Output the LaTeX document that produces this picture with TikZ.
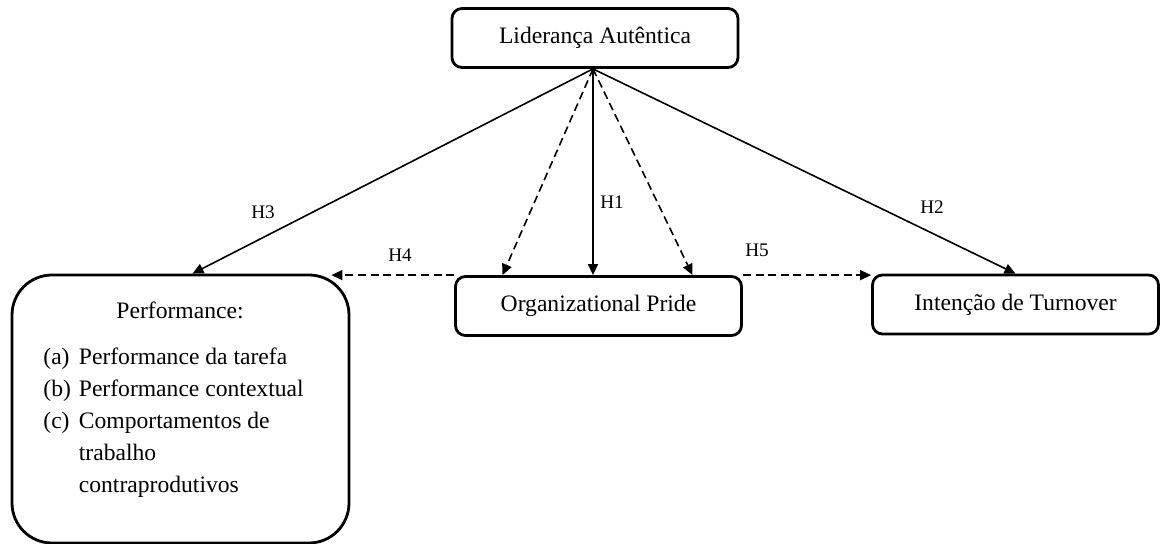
\documentclass[tikz,border=0pt]{standalone}
\usepackage{fontspec}
\setmainfont{Liberation Serif}
\usetikzlibrary{arrows.meta, calc}

\tikzset{
  box/.style={draw, line width=1.4pt, rounded corners=5pt, minimum width=143pt, minimum height=29.5pt, font=\fontsize{11.8}{14}\selectfont},
  bigbox/.style={draw, line width=1.4pt, rounded corners=20pt, minimum width=168.5pt, minimum height=134pt},
  txt/.style={font=\fontsize{11.8}{15.9}\selectfont},
  arr/.style={line width=0.8pt, -{Triangle[length=5.5pt,width=5pt]}},
  hdash/.style={dash pattern=on 4pt off 2.3pt},
  hyp/.style={font=\fontsize{9.6}{11}\selectfont}
}

\begin{document}
\begin{tikzpicture}[x=0.5pt, y=-0.5pt]
\useasboundingbox (0,0) rectangle (1161,544);
\node[box] (lider) at (595,38) {Liderança Autêntica};
\node[box] (pride) at (598.5,306) {Organizational Pride};
\node[box] (turnover) at (1015.5,304.5) {Intenção de Turnover};
\node[bigbox] (perf) at (180.5,409) {};
\node[txt, anchor=base] (perftitle) at (180,319) {Performance:};
\node[txt, anchor=base west, inner sep=0pt] (perflist) at (43,365) {\begin{tabular}[t]{@{}l@{\hspace{4pt}}l@{}}
(a) & Performance da tarefa\\
(b) & Performance contextual\\
(c) & Comportamentos de\\
    & trabalho\\
    & contraprodutivos
\end{tabular}};
\coordinate (apex) at ([xshift=-1pt]lider.south);
\node[hyp] (h1) at (612,202) {H1};
\node[hyp] (h2) at (932,207) {H2};
\node[hyp] (h3) at (263,212) {H3};
\node[hyp] (h4) at (400,255) {H4};
\node[hyp] (h5) at (757,250) {H5};
\path[arr] (apex) edge ([xshift=6pt]perf.north) edge (apex |- pride.north) edge (turnover.north);
\path[arr, hdash] (apex) edge ([xshift=-48pt]pride.north) edge ([xshift=47pt]pride.north);
\draw[arr, hdash] (pride.north west) -- ($(pride.north west -| perf.east)+(-19,0)$);
\draw[arr, hdash] (pride.north east) -- (pride.north east -| turnover.west);
\end{tikzpicture}
\end{document}
